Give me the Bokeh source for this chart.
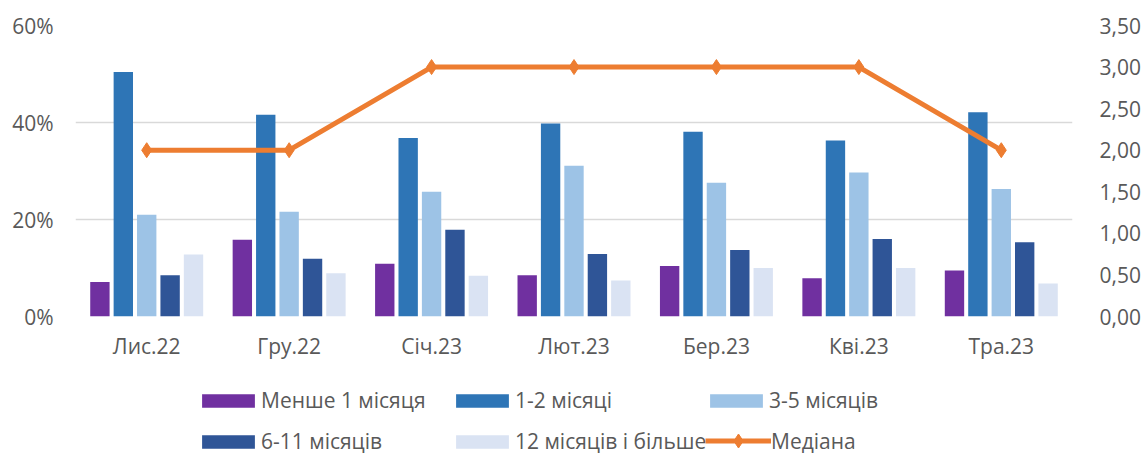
from bokeh.plotting import figure
from bokeh.layouts import column
from bokeh.models import (ColumnDataSource, FactorRange, Range1d, LinearAxis, FixedTicker,
                          PrintfTickFormatter, CustomJSTickFormatter, Legend, LegendItem)
from bokeh.transform import dodge
from bokeh.embed import file_html
from bokeh.resources import INLINE

# ---------------- data ----------------
months = ["Лис.22", "Гру.22", "Січ.23", "Лют.23", "Бер.23", "Кві.23", "Тра.23"]
less_1m = [7.1, 15.8, 10.9, 8.5, 10.4, 7.9, 9.5]
m1_2 = [50.4, 41.6, 36.8, 39.8, 38.1, 36.3, 42.1]
m3_5 = [21.0, 21.6, 25.7, 31.1, 27.6, 29.7, 26.3]
m6_11 = [8.5, 11.9, 17.9, 12.9, 13.7, 16.0, 15.3]
m12_plus = [12.8, 8.9, 8.4, 7.4, 10.0, 10.0, 6.8]
median = [2, 2, 3, 3, 3, 3, 2]

series_names = ["Менше 1 місяця", "1-2 місяці", "3-5 місяців", "6-11 місяців", "12 місяців і більше"]
median_name = "Медіана"
left_ticks = [0, 20, 40, 60]
right_ticks = [0, 0.5, 1.0, 1.5, 2.0, 2.5, 3.0, 3.5]

# ---------------- styles ----------------
colors = ["#7030A0", "#2E75B6", "#9DC3E6", "#2F5597", "#DAE3F3"]
median_color = "#ED7D31"
text_color = "#595959"
grid_color = "#D9D9D9"
FONT = "Open Sans"
FS = "21px"

keys = ["s0", "s1", "s2", "s3", "s4"]
data = dict(month=months, median=median)
for k, vals in zip(keys, [less_1m, m1_2, m3_5, m6_11, m12_plus]):
    data[k] = vals
src = ColumnDataSource(data)

W = 1143
FL, FW, FT, FH = 75, 1001, 25, 291
p = figure(x_range=FactorRange(*months), y_range=Range1d(0, 60),
           width=W, height=FT + FH + 50,
           min_border_left=FL, min_border_right=W - FL - FW, min_border_top=FT, min_border_bottom=50,
           output_backend="svg", toolbar_location=None, outline_line_color=None,
           background_fill_color="white", border_fill_color="white")
p.extra_y_ranges = {"right": Range1d(0, 3.5)}

step = 0.1643
bar_w = 0.136
bar_renderers = []
for i, (k, c) in enumerate(zip(keys, colors)):
    r = p.vbar(x=dodge("month", (i - 2) * step, range=p.x_range), top=k, width=bar_w,
               source=src, fill_color=c, line_color=None)
    bar_renderers.append(r)

ln = p.line(x="month", y="median", source=src, y_range_name="right",
            line_color=median_color, line_width=5)
sc = p.scatter(x="month", y="median", source=src, y_range_name="right", marker="diamond",
               size=15, fill_color=median_color, line_color=median_color)

# axes
p.xaxis.axis_line_color = None
p.xaxis.major_tick_line_color = None
p.xaxis.minor_tick_line_color = None
p.xaxis.major_label_text_font = FONT
p.xaxis.major_label_text_font_size = FS
p.xaxis.major_label_text_color = text_color
p.xaxis.major_label_standoff = 9

p.yaxis.ticker = FixedTicker(ticks=left_ticks)
p.yaxis.formatter = PrintfTickFormatter(format="%d%%")
p.yaxis.axis_line_color = None
p.yaxis.major_tick_line_color = None
p.yaxis.minor_tick_line_color = None
p.yaxis.major_label_text_font = FONT
p.yaxis.major_label_text_font_size = FS
p.yaxis.major_label_text_color = text_color
p.yaxis.major_label_standoff = 16

ra = LinearAxis(y_range_name="right", ticker=FixedTicker(ticks=right_ticks),
                formatter=CustomJSTickFormatter(code="return tick.toFixed(2).replace('.', ',');"))
ra.axis_line_color = None
ra.major_tick_line_color = None
ra.minor_tick_line_color = None
ra.major_label_text_font = FONT
ra.major_label_text_font_size = FS
ra.major_label_text_color = text_color
ra.major_label_standoff = 21
p.add_layout(ra, "right")

p.xgrid.grid_line_color = None
p.ygrid.grid_line_color = grid_color
p.ygrid.grid_line_width = 1.5

# ---------------- legend (separate strip under the chart) ----------------
H2 = 100
# ranges chosen so that the legend-proxy glyphs fall outside the visible area
lg_fig = figure(width=W, height=H2, x_range=Range1d(100, 200), y_range=Range1d(100, 200),
                min_border=0, x_axis_location=None, y_axis_location=None,
                output_backend="svg", toolbar_location=None, outline_line_color=None,
                background_fill_color="white", border_fill_color="white")
lg_fig.grid.visible = False
proxies = [lg_fig.vbar(x="median", top="median", bottom="median", width=0, source=src,
                       fill_color=c, line_color=None) for c in colors]
pl = lg_fig.line(x="median", y="median", source=src, line_color=median_color, line_width=5)
ps = lg_fig.scatter(x="median", y="median", source=src, marker="diamond", size=15,
                    fill_color=median_color, line_color=median_color)

items = [LegendItem(label=n, renderers=[r]) for n, r in zip(series_names, proxies)]
items.append(LegendItem(label=median_name, renderers=[pl, ps]))


def make_legend(its, loc, gh=17):
    return Legend(items=its, location=loc, orientation="horizontal",
                  glyph_width=66, glyph_height=gh, label_width=188, label_height=14,
                  label_standoff=0, spacing=0, padding=0, margin=0,
                  border_line_color=None, background_fill_alpha=0,
                  label_text_font=FONT, label_text_font_size=FS, label_text_color=text_color)


lg_fig.add_layout(make_legend(items[:3], (120, H2 - 48)), "center")
lg_fig.add_layout(make_legend(items[3:5], (120, H2 - 89)), "center")
lg_fig.add_layout(make_legend(items[5:], (630, 8), gh=35), "center")

layout = column(p, lg_fig, spacing=0)
open("out.html", "w").write(file_html(layout, INLINE))
